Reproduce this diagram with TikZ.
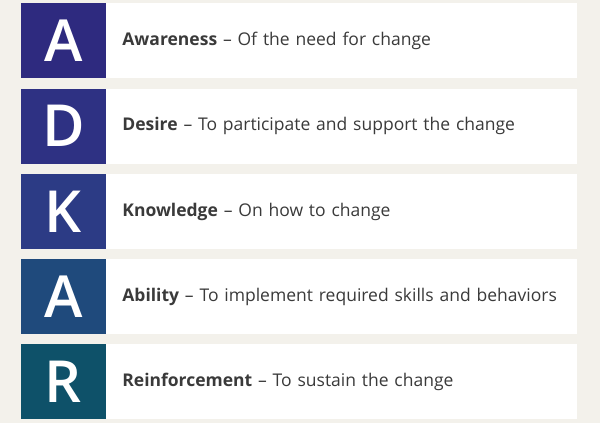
\documentclass[tikz,border=0pt]{standalone}
\usepackage{fontspec}
\setmainfont{Open Sans}
\newfontfamily\letterfont{Open Sans Semibold}
\usepackage{tikz}
\usepackage{xcolor}
\usetikzlibrary{shapes, positioning}

\definecolor{cream}{HTML}{F3F1EB}
\definecolor{inkgray}{HTML}{3A3A3A}
\definecolor{stepA}{HTML}{2E2A7F}
\definecolor{stepD}{HTML}{2E3183}
\definecolor{stepK}{HTML}{2C3B85}
\definecolor{stepAb}{HTML}{1F4A7C}
\definecolor{stepR}{HTML}{0E5169}

\tikzset{
    letterbox/.style={rectangle, minimum width=85pt, minimum height=75pt, inner sep=0pt,
        text=white, font=\letterfont\fontsize{58}{58}\selectfont},
    textbox/.style={rectangle, fill=white, anchor=west, minimum width=471pt, minimum height=75pt,
        inner xsep=16pt, inner ysep=0pt, text width=439pt, align=left, text=inkgray,
        font=\fontsize{17.5}{20}\selectfont}
}

\begin{document}
\begin{tikzpicture}[x=1pt, y=1pt]
        \fill[cream] (0, 0) rectangle (600, -423);
        \useasboundingbox (0, 0) rectangle (600, -423);

        \node[letterbox, fill=stepA] (a) at (63.5, -40.5) {A};
        \node[letterbox, fill=stepD] (d) at (63.5, -126) {D};
        \node[letterbox, fill=stepK] (k) at (63.5, -211.5) {K};
        \node[letterbox, fill=stepAb] (ab) at (63.5, -296.5) {A};
        \node[letterbox, fill=stepR] (r) at (63.5, -381.5) {R};

        \node[textbox] (ta) at (a.east) {\textbf{Awareness} -- Of the need for change};
        \node[textbox] (td) at (d.east) {\textbf{Desire} -- To participate and support the change};
        \node[textbox] (tk) at (k.east) {\textbf{Knowledge} -- On how to change};
        \node[textbox] (tab) at (ab.east) {\textbf{Ability} -- To implement required skills and behaviors};
        \node[textbox] (tr) at (r.east) {\textbf{Reinforcement} -- To sustain the change};
    \end{tikzpicture}
\end{document}
